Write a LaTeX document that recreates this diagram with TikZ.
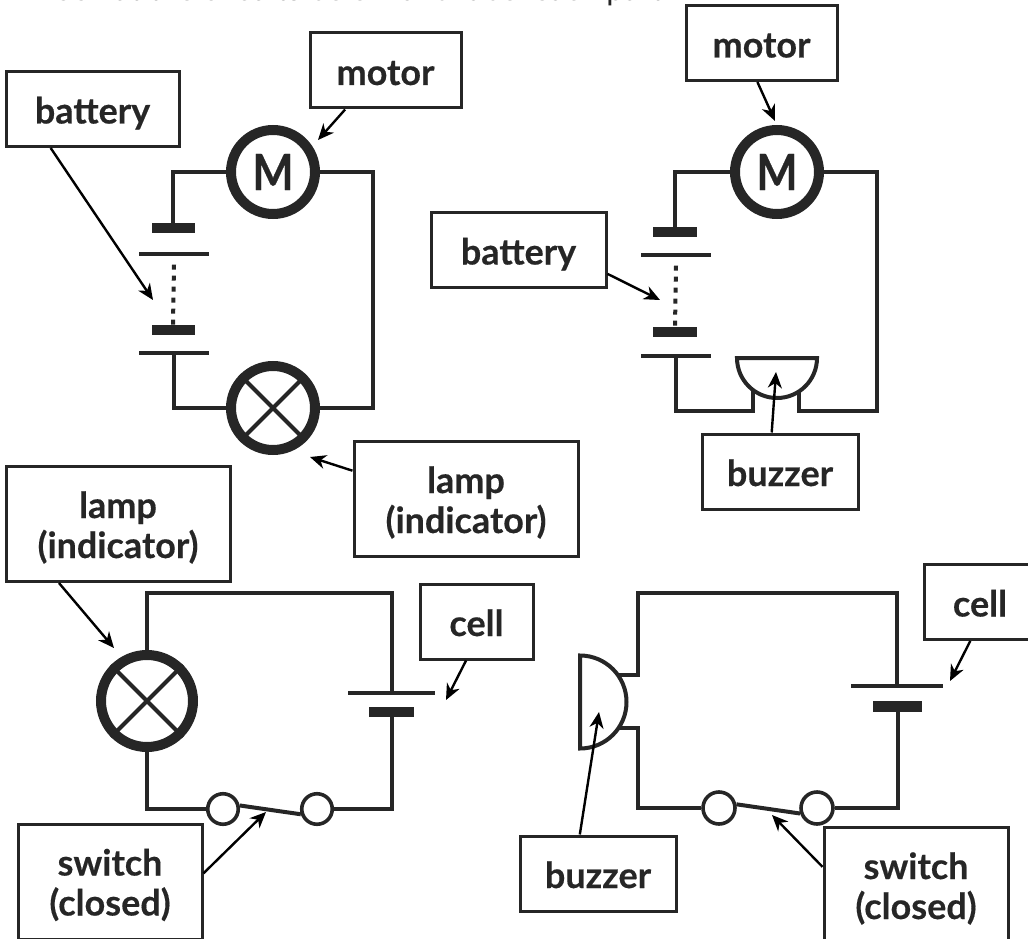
\documentclass[tikz,border=0pt]{standalone}
\usepackage{fontspec}
\setmainfont{Lato}[BoldFeatures={FakeBold=0.35}]
\newfontfamily\motorfont{Lato Bold}[FakeStretch=0.87, FakeBold=0.5]
\usepackage{tikz}
\usetikzlibrary{arrows.meta}
\definecolor{ink}{HTML}{262626}
\tikzstyle{labelbox} = [draw=ink, line width=3pt, fill=white, minimum height=75pt, inner sep=0pt, align=center, text height=35pt, text depth=6pt, font=\fontsize{36}{40}\selectfont\bfseries, text=ink]
\tikzstyle{tallbox} = [labelbox, minimum height=115pt, text height=74pt]
\tikzstyle{arrow} = [draw, line width=2.4pt, -{Stealth[length=16pt, width=14pt, inset=5pt]}, black]
\tikzstyle{wire} = [draw=ink, line width=4pt, line join=miter]
\tikzstyle{bigring} = [circle, draw=ink, line width=10pt, minimum size=84pt, inner sep=0pt, text=ink]
\tikzstyle{contact} = [circle, draw=ink, line width=3.6pt, minimum size=30.5pt, inner sep=0pt]
\tikzstyle{cellthick} = [fill=ink, minimum height=10.5pt, inner sep=0pt]
\tikzstyle{cellthin} = [fill=ink, minimum height=4pt, inner sep=0pt]
\tikzstyle{linkdots} = [draw=ink, line width=4pt, dash pattern=on 5pt off 6pt]

\begin{document}
\begin{tikzpicture}[x=1pt, y=-1pt]
\useasboundingbox (0,0) rectangle (1028,939);

\node[anchor=base west, text=ink, font=\fontsize{31.5}{34}\selectfont] (heading) at (36,0.2) {Look at the circuits below and label each part};

\begin{scope}
\node[bigring, font=\fontsize{50}{50}\motorfont] (motora) at (273,172) {M};
\node[bigring] (lampa) at (273,408) {};
\draw[wire] (lampa.45) -- (lampa.225);
\draw[wire] (lampa.135) -- (lampa.315);
\node[cellthick, minimum width=43pt] (thicka) at (173,228) {};
\node[cellthin, minimum width=70pt] (thina) at (174,253.5) {};
\node[cellthick, minimum width=43pt] (thickb) at (173,330) {};
\node[cellthin, minimum width=70pt] (thinb) at (174,353) {};
\coordinate (cornera) at (373,172);
\draw[wire] (motora.west) -| (thicka.north);
\draw[wire] (motora.east) -- (cornera) |- (lampa.east);
\draw[wire] (thinb.south) |- (lampa.west);
\path[linkdots] (thina.south) ++(0,9) -- (thickb.north);
\node[labelbox, minimum width=173pt] (batterya) at (92.5,109) {battery};
\node[labelbox, minimum width=151pt] (motorboxa) at (385.5,70.5) {motor};
\node[tallbox, minimum width=224pt] (lampboxa) at (466,499) {lamp\\(indicator)};
\coordinate (tipbatterya) at (153,300);
\coordinate (tipmotora) at (318,140);
\coordinate (tiplampa) at (310,457);
\path[arrow] (batterya.223) to (tipbatterya);
\path[arrow] (motorboxa.224) to (tipmotora);
\path[arrow] (lampboxa.166.5) to (tiplampa);
\end{scope}

\begin{scope}
\node[bigring, font=\fontsize{50}{50}\motorfont] (motorb) at (777,172) {M};
\node[cellthick, minimum width=44pt] (thickc) at (675,232) {};
\node[cellthin, minimum width=70pt] (thinc) at (676,254.5) {};
\node[cellthick, minimum width=44pt] (thickd) at (675,332) {};
\node[cellthin, minimum width=70pt] (thind) at (676,356) {};
\draw[wire, line join=miter] (817,358) arc[start angle=0, end angle=180, radius=40] -- cycle;
\coordinate (buzzbl) at (753,390);
\coordinate (buzzbr) at (799,391);
\coordinate (cornerb) at (877,172);
\coordinate (cornerc) at (753,411);
\coordinate (cornerd) at (799,411);
\draw[wire] (motorb.west) -| (thickc.north);
\draw[wire] (motorb.east) -- (cornerb) |- (cornerd) -- (buzzbr);
\draw[wire] (thind.south) |- (cornerc) -- (buzzbl);
\path[linkdots] (thinc.south) ++(0,9) -- (thickd.north);
\node[labelbox, minimum width=151pt] (motorboxb) at (761.5,43) {motor};
\node[labelbox, minimum width=175pt] (batteryb) at (518.5,250) {battery};
\node[labelbox, minimum width=156pt] (buzzerb) at (780,471.5) {buzzer};
\coordinate (tipmotorb) at (775,121);
\coordinate (tipbatteryb) at (660,300);
\coordinate (tipbuzzerb) at (776,372);
\path[arrow] (motorboxb.264.6) to (tipmotorb);
\path[arrow] (batteryb.-15.3) to (tipbatteryb);
\path[arrow] (buzzerb.102) to (tipbuzzerb);
\end{scope}

\begin{scope}
\node[bigring, minimum size=92pt] (lampc) at (147,701) {};
\draw[wire] (lampc.45) -- (lampc.225);
\draw[wire] (lampc.135) -- (lampc.315);
\node[cellthin, minimum width=87pt] (thine) at (391.5,693) {};
\node[cellthick, minimum width=45pt] (thicke) at (391.5,712) {};
\node[contact] (contacta) at (223,809) {};
\node[contact] (contactb) at (317,809) {};
\coordinate (cornere) at (147,593);
\draw[wire] (lampc.north) -- (cornere) -| (thine.north);
\draw[wire] (lampc.south) |- (contacta.west);
\draw[wire] (thicke.south) |- (contactb.east);
\draw[wire] (contacta.12) -- (contactb.198);
\node[tallbox, minimum width=224pt] (lampboxc) at (118,524) {lamp\\(indicator)};
\node[labelbox, minimum width=113pt] (cellboxa) at (476.5,621.5) {cell};
\node[tallbox, minimum width=184pt] (switcha) at (110,881.5) {switch\\(closed)};
\coordinate (tiplampc) at (114,648);
\coordinate (tipcella) at (446,700);
\coordinate (tipswitcha) at (266,812);
\path[arrow] (lampboxc.225.5) to (tiplampc);
\path[arrow] (cellboxa.255.8) to (tipcella);
\path[arrow] (switcha.5.2) to (tipswitcha);
\end{scope}

\begin{scope}
\draw[wire] (580,655.5) arc[start angle=-90, end angle=90, radius=46.5] -- cycle;
\coordinate (buzzdu) at (618,675);
\coordinate (buzzdl) at (618,728);
\node[cellthin, minimum width=92pt] (thinf) at (897,686) {};
\node[cellthick, minimum width=49pt] (thickf) at (897.5,706.5) {};
\node[contact, minimum size=32pt] (contactc) at (719,808) {};
\node[contact, minimum size=32pt] (contactd) at (817,808) {};
\coordinate (cornerf) at (638,675);
\coordinate (cornerg) at (638,593);
\coordinate (cornerh) at (638,728);
\draw[wire] (buzzdu) -- (cornerf) -- (cornerg) -| (thinf.north);
\draw[wire] (buzzdl) -- (cornerh) |- (contactc.west);
\draw[wire] (thickf.south) |- (contactd.east);
\draw[wire] (contactc.12) -- (contactd.198);
\node[labelbox, minimum width=156pt] (buzzerd) at (598,873.5) {buzzer};
\node[labelbox, minimum width=112pt] (cellboxb) at (980,602) {cell};
\node[tallbox, minimum width=184pt] (switchb) at (916,885) {switch\\(closed)};
\coordinate (tipbuzzerd) at (599,712);
\coordinate (tipcellb) at (950,681);
\coordinate (tipswitchb) at (772,815);
\path[arrow] (buzzerd.115.6) to (tipbuzzerd);
\path[arrow] (cellboxb.256) to (tipcellb);
\path[arrow] (switchb.169.5) to (tipswitchb);
\end{scope}
\end{tikzpicture}
\end{document}
